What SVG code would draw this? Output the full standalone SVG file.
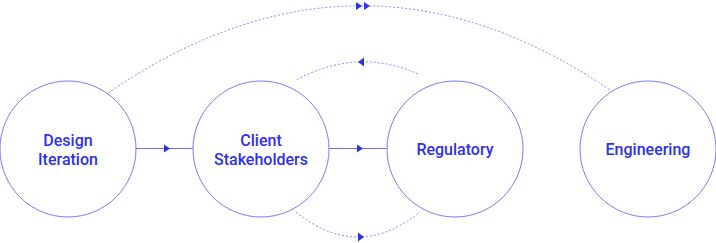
<svg xmlns="http://www.w3.org/2000/svg" width="716" height="243" viewBox="0 0 716 243">
<defs>
<style>
.node circle{fill:none;stroke:#7b7bf7;stroke-width:1}
.node text{font-family:Roboto,"Open Sans","Liberation Sans",sans-serif;font-weight:500;font-size:16px;fill:#2f2ff0;text-anchor:middle}
.solid{stroke:#6c6cf5;stroke-width:1;fill:none}
.dot{stroke:#8585f7;stroke-width:1;fill:none;stroke-dasharray:2 2}
.head{fill:#2f2ff0}
</style>
</defs>
<rect width="716" height="243" fill="#ffffff"/>
<g id="connectors">
<line class="solid" x1="136" y1="148.5" x2="193" y2="148.5"/>
<polygon class="head" points="164,144.5 170,148.5 164,152.5"/>
<line class="solid" x1="329" y1="148.5" x2="387" y2="148.5"/>
<polygon class="head" points="357,144.5 363,148.5 357,152.5"/>
<path class="dot" d="M108,93 Q360,-80 610,90"/>
<polygon class="head" points="356,2 362,6 356,10"/>
<polygon class="head" points="364,2 370,6 364,10"/>
<path class="dot" d="M418,74 Q358,47 296,80"/>
<polygon class="head" points="364,57.5 358,62 364,66.5"/>
<path class="dot" d="M296,212 Q358,262 420,212"/>
<polygon class="head" points="358,232.5 364,237 358,241.5"/>
</g>
<g id="design" class="node">
<circle cx="68" cy="149" r="68"/>
<text x="68" y="146"><tspan x="68">Design</tspan><tspan x="68" dy="19">Iteration</tspan></text>
</g>
<g id="client" class="node">
<circle cx="261" cy="149" r="68"/>
<text x="261" y="146"><tspan x="261">Client</tspan><tspan x="261" dy="19">Stakeholders</tspan></text>
</g>
<g id="regulatory" class="node">
<circle cx="455" cy="149" r="68"/>
<text x="455" y="155">Regulatory</text>
</g>
<g id="engineering" class="node">
<circle cx="648" cy="149" r="68"/>
<text x="648" y="155">Engineering</text>
</g>
</svg>
